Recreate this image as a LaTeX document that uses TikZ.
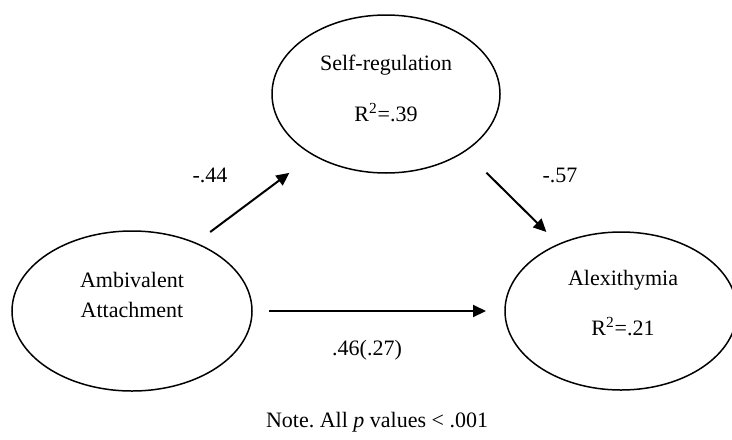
\documentclass[tikz,border=0pt]{standalone}
\usepackage{fontspec}
\setmainfont{Liberation Serif}
\usepackage{tikz}
\usetikzlibrary{arrows.meta,positioning,calc,shapes.geometric}
\tikzset{
  oval/.style={ellipse,draw=black,line width=.75pt,inner sep=0pt,outer sep=0pt},
  path/.style={-{Triangle[length=6.5pt,width=6pt]},line width=1pt,black},
  lbl/.style={inner sep=0pt,align=center,font=\fontsize{11}{15}\selectfont},
}
\frenchspacing

\begin{document}
\begin{tikzpicture}[x=.5pt,y=-.5pt]
  \useasboundingbox[fill=white] (0,0) rectangle (732,439);
  % latent variables
  \node[oval,minimum width=114pt,minimum height=79pt] (selfreg) at (386,94) {};
  \node[oval,minimum width=120pt,minimum height=80pt] (amb) at (132,311) {};
  \node[oval,minimum width=116pt,minimum height=79pt] (alex) at (621,311) {};
  \node[lbl] (selfregname) at (386,65) {Self-regulation};
  \node[lbl] (selfregr) at (386,113) {R\textsuperscript{2}=.39};
  \node[lbl] (ambname) at (132,295) {Ambivalent\\Attachment};
  \node[lbl] (alexname) at (623,280) {Alexithymia};
  \node[lbl] (alexr) at (623,327) {R\textsuperscript{2}=.21};
  % paths
  \draw[path,shorten <=9.25pt,shorten >=15pt] (amb.47) -- (selfreg.220);
  \draw[path,shorten <=15.3pt,shorten >=8.75pt] (selfreg.-36) -- (alex.133);
  \draw[path,shorten <=8.5pt,shorten >=9.5pt] (amb.east) -- (alex.west);
  \node[lbl] (coefa) at (210,175) {-.44};
  \node[lbl] (coefb) at (560,175) {-.57};
  \node[lbl] (coefc) at (367,350) {.46(.27)};
  \node[lbl] (note) at (377,422) {Note. All \textit{p} values < .001};
\end{tikzpicture}
\end{document}
